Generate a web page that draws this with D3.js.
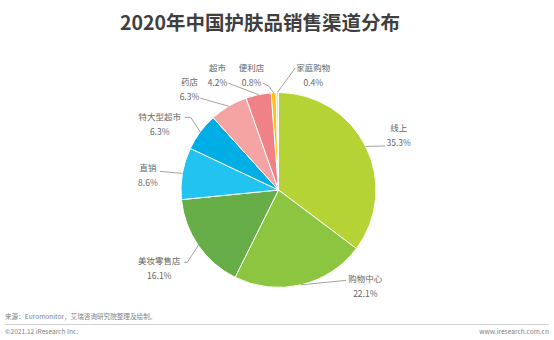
<!DOCTYPE html>
<html><head><meta charset="utf-8">
<script src="https://cdn.jsdelivr.net/npm/d3@7"></script>
<style>
html,body{margin:0;padding:0;background:#fff;}
svg{display:block;}
</style></head>
<body>
<svg id="chart" width="554" height="340"></svg>
<script>
const title = "2020年中国护肤品销售渠道分布";
const categories = ["线上","购物中心","美妆零售店","直销","特大型超市","药店","超市","便利店","家庭购物"];
const values = [35.3,22.1,16.1,8.6,6.3,6.3,4.2,0.8,0.4];
const valueLabels = ["35.3%","22.1%","16.1%","8.6%","6.3%","6.3%","4.2%","0.8%","0.4%"];
const colors = ["#b5d334","#8cc53f","#66ad47","#22c3f0","#00aee6","#f5a3a3","#f08287","#fdc210","#fbe590"];
const sourceText = "来源：Euromonitor，艾瑞咨询研究院整理及绘制。";
const copyrightText = "©2021.12 iResearch Inc.";
const siteText = "www.iresearch.com.cn";

// label layout: text offset (name centre) and leader points, relative to the slice's edge point
const labelLayout = [
  {t:[33,-18.5], pts:[[19.7,-0.5]]},
  {t:[64.4,-6], pts:[[45,-4.5]]},
  {t:[-39,16], pts:[[-11,17],[-14,17]]},
  {t:[-34.5,-5], pts:[[-22.5,-2]]},
  {t:[-40.5,-14.5], pts:[[-9.5,-14.5],[-15.5,-14.5]]},
  {t:[-39.2,-24], pts:[[-28.2,-8]]},
  {t:[-41,-26.4], pts:[[-30,-11.4]]},
  {t:[-22,-24.6], pts:[[-5,-6.6],[-11,-9.6]]},
  {t:[36,-24.5], pts:[[18,-24.5]]}
];

const svg = d3.select("#chart");
const W = 554, H = 340;
const cx = 278.5, cy = 190, R = 97.5;
const font = "'Noto Sans CJK SC','Microsoft YaHei',sans-serif";

svg.append("text").attr("x",260).attr("y",30).attr("text-anchor","middle")
  .attr("font-family",font).attr("font-weight","bold").attr("font-size",19.5)
  .attr("fill","#3f3f3f").text(title);

const data = categories.map((c,i)=>({name:c, value:values[i], label:valueLabels[i], color:colors[i], lay:labelLayout[i]}));
const pie = d3.pie().value(d=>d.value).sort(null);
const arcs = pie(data);
const arc = d3.arc().innerRadius(0).outerRadius(R);

const g = svg.append("g").attr("transform",`translate(${cx},${cy})`);
g.selectAll("path").data(arcs).join("path")
  .attr("d",arc).attr("fill",d=>d.data.color)
  .attr("stroke","#fff").attr("stroke-width",1).attr("stroke-linejoin","round");

const lg = svg.append("g");
arcs.forEach(a=>{
  const mid = (a.startAngle+a.endAngle)/2;
  const ex = cx + R*Math.sin(mid), ey = cy - R*Math.cos(mid);
  const lay = a.data.lay;
  const pts = [[ex,ey]].concat(lay.pts.map(p=>[ex+p[0],ey+p[1]]));
  lg.append("path").attr("d",d3.line()(pts)).attr("fill","none")
    .attr("stroke","#8c8c8c").attr("stroke-width",0.8);
  const tx = ex+lay.t[0], ty = ey+lay.t[1];
  lg.append("text").attr("x",tx).attr("y",ty+3).attr("text-anchor","middle")
    .attr("font-family",font).attr("font-size",8.5).attr("fill","#666").text(a.data.name);
  lg.append("text").attr("x",tx).attr("y",ty+18).attr("text-anchor","middle")
    .attr("font-family",font).attr("font-size",8.5).attr("fill","#666").text(a.data.label);
});

svg.append("text").attr("x",5).attr("y",318.5).attr("font-family",font)
  .attr("font-size",6.6).attr("fill","#7f7f7f").text(sourceText);
svg.append("line").attr("x1",5).attr("x2",549).attr("y1",324.5).attr("y2",324.5)
  .attr("stroke","#c8c8c8").attr("stroke-width",0.8);
svg.append("text").attr("x",5).attr("y",333.5).attr("font-family",font)
  .attr("font-size",6.6).attr("fill","#7f7f7f").text(copyrightText);
svg.append("text").attr("x",549).attr("y",333.5).attr("text-anchor","end").attr("font-family",font)
  .attr("font-size",6.6).attr("fill","#7f7f7f").text(siteText);
</script>
</body></html>
